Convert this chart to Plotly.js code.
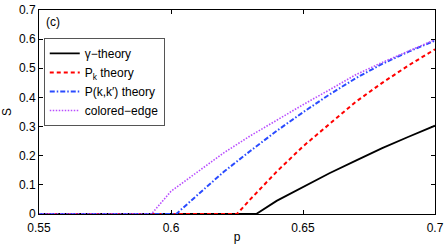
<!DOCTYPE html>
<html>
<head>
<meta charset="utf-8">
<script src="https://cdn.plot.ly/plotly-3.0.1.min.js"></script>
<style>html,body{margin:0;padding:0;background:#fff;}#chart{width:447px;height:244px;}</style>
</head>
<body>
<div id="chart"></div>
<script>
// Data
const gammaP = [0.55, 0.6323, 0.64, 0.65, 0.66, 0.67, 0.68, 0.69, 0.70];
const gammaS = [0, 0, 0.045, 0.093, 0.140, 0.183, 0.226, 0.265, 0.303];

const pkP = [0.55, 0.625, 0.63, 0.64, 0.65, 0.66, 0.67, 0.68, 0.69, 0.70];
const pkS = [0, 0, 0.050, 0.145, 0.232, 0.310, 0.385, 0.450, 0.510, 0.565];

const pkkP = [0.55, 0.602, 0.61, 0.62, 0.63, 0.64, 0.65, 0.66, 0.67, 0.68, 0.69, 0.70];
const pkkS = [0, 0, 0.065, 0.145, 0.216, 0.285, 0.349, 0.410, 0.466, 0.515, 0.557, 0.595];

const ceP = [0.55, 0.5926, 0.60, 0.61, 0.62, 0.63, 0.64, 0.65, 0.66, 0.67, 0.68, 0.69, 0.70];
const ceS = [0, 0, 0.078, 0.145, 0.210, 0.268, 0.322, 0.375, 0.426, 0.478, 0.520, 0.560, 0.598];

const seriesNames = ["γ−theory", "P<sub>k</sub> theory", "P(k,k′) theory", "colored−edge"];
const xTicks = [0.55, 0.6, 0.65, 0.7];
const xTickText = ["0.55", "0.6", "0.65", "0.7"];
const yTicks = [0, 0.1, 0.2, 0.3, 0.4, 0.5, 0.6, 0.7];
const yTickText = ["0", "0.1", "0.2", "0.3", "0.4", "0.5", "0.6", "0.7"];

const traces = [
  {x: gammaP, y: gammaS, name: seriesNames[0], mode: 'lines', line: {color: '#000000', width: 1.8, dash: 'solid'}},
  {x: pkP, y: pkS, name: seriesNames[1], mode: 'lines', line: {color: '#ff0000', width: 2, dash: '4px,3px'}},
  {x: pkkP, y: pkkS, name: seriesNames[2], mode: 'lines', line: {color: '#2a4bff', width: 2, dash: '5px,2px,1.5px,2px'}},
  {x: ceP, y: ceS, name: seriesNames[3], mode: 'lines', line: {color: '#b84dff', width: 1.6, dash: '1.5px,1.5px'}}
];

const font = {family: '"Liberation Sans", Arial, sans-serif', size: 12, color: '#000'};

const layout = {
  width: 447, height: 244,
  margin: {l: 39, r: 12, t: 10, b: 30, pad: 0},
  paper_bgcolor: '#fff', plot_bgcolor: '#fff',
  font: font,
  showlegend: true,
  legend: {
    x: 0.012, y: 0.863, xanchor: 'left', yanchor: 'top',
    bgcolor: '#fff', bordercolor: '#555', borderwidth: 1,
    font: {family: font.family, size: 12, color: '#000'},
    itemwidth: 30, tracegroupgap: 0
  },
  xaxis: {
    range: [0.55, 0.7], tickvals: xTicks, ticktext: xTickText,
    ticks: 'inside', ticklen: 4, tickcolor: '#000', mirror: 'ticks',
    showline: true, linecolor: '#000', linewidth: 1,
    showgrid: false, zeroline: false, ticklabelstandoff: 3,
    title: {text: 'p', font: {family: font.family, size: 12}, standoff: 1},
    tickfont: font
  },
  yaxis: {
    range: [0, 0.7], tickvals: yTicks, ticktext: yTickText,
    ticks: 'inside', ticklen: 4, tickcolor: '#000', mirror: 'ticks',
    showline: true, linecolor: '#000', linewidth: 1,
    showgrid: false, zeroline: false,
    title: {text: 'S', font: {family: font.family, size: 12}, standoff: 6},
    tickfont: font
  },
  annotations: [{
    text: '(c)', xref: 'paper', yref: 'paper', x: 0.012, y: 0.94,
    xanchor: 'left', yanchor: 'middle', showarrow: false,
    font: {family: font.family, size: 12, color: '#000'}
  }]
};

Plotly.newPlot('chart', traces, layout, {displayModeBar: false, staticPlot: true});
</script>
</body>
</html>
